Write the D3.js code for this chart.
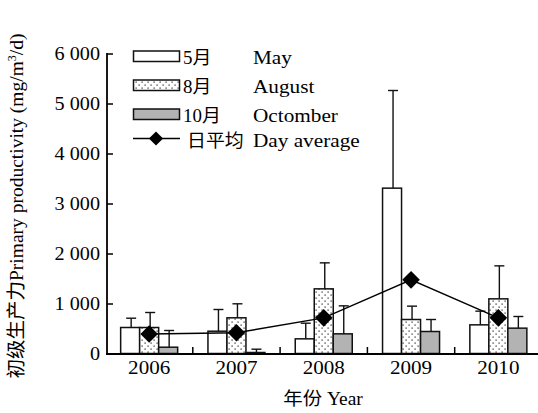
<!DOCTYPE html>
<html><head><meta charset="utf-8">
<script src="https://cdn.jsdelivr.net/npm/d3@7"></script>
<style>body{margin:0;background:#fff}</style>
</head><body><svg id="c" width="538" height="413"></svg>
<script>
const years = ["2006","2007","2008","2009","2010"];
const may = [520, 446, 293, 3307, 573];
const mayErr = [706, 880, 606, 5260, 847];
const aug = [520, 714, 1293, 680, 1093];
const augErr = [820, 994, 1813, 947, 1753];
const oct = [126, 20, 393, 440, 507];
const octErr = [460, 86, 953, 680, 740];
const dayAvg = [389, 414, 713, 1473, 713];
const yTicks = [0, 1000, 2000, 3000, 4000, 5000, 6000];
const seriesNames = ["may", "aug", "oct"];
const legendLabels = [["5月", "May"], ["8月", "August"], ["10月", "Octomber"], ["日平均", "Day average"]];

const FONT = "'Liberation Serif','Noto Sans CJK SC',serif";
const svg = d3.select("#c");
function stretch(sel, f) {
  sel.each(function() {
    const w = this.getComputedTextLength();
    this.setAttribute("textLength", (w * f).toFixed(1));
    this.setAttribute("lengthAdjust", "spacingAndGlyphs");
  });
}
const defs = svg.append("defs");
const pat = defs.append("pattern").attr("id","dots").attr("patternUnits","userSpaceOnUse")
  .attr("width",6).attr("height",6);
pat.append("rect").attr("width",6).attr("height",6).attr("fill","#fff");
pat.append("rect").attr("x",0.5).attr("y",0.5).attr("width",1.2).attr("height",1.2).attr("fill","#222");
pat.append("rect").attr("x",3.5).attr("y",3.5).attr("width",1.2).attr("height",1.2).attr("fill","#222");

const fills = {may:"#fff", aug:"url(#dots)", oct:"#b3b3b3"};
const vals = {may, aug, oct};
const errs = {may:mayErr, aug:augErr, oct:octErr};

const x = d3.scaleBand().domain(years).range([105.5, 542]).padding(0);
const xi = d3.scaleBand().domain(seriesNames).range([-28.5, 28.5]).padding(0);
const y = d3.scaleLinear().domain([0, 6000]).range([353.5, 53.5]);

// bars
seriesNames.forEach(s => {
  const g = svg.append("g");
  years.forEach((yr, i) => {
    const cx = x(yr) + x.bandwidth()/2 + xi(s);
    g.append("rect").attr("x", cx).attr("y", y(vals[s][i])).attr("width", xi.bandwidth())
      .attr("height", y(0) - y(vals[s][i])).attr("fill", fills[s]).attr("stroke","#111").attr("stroke-width",1.5);
    const ex = cx + xi.bandwidth()/2 + 1;
    g.append("line").attr("x1",ex).attr("x2",ex).attr("y1",y(vals[s][i])).attr("y2",y(errs[s][i]))
      .attr("stroke","#111").attr("stroke-width",1.4);
    g.append("line").attr("x1",ex-5).attr("x2",ex+5).attr("y1",y(errs[s][i])).attr("y2",y(errs[s][i]))
      .attr("stroke","#111").attr("stroke-width",1.4);
  });
});

// average line
const line = d3.line().x((d,i)=>x(years[i]) + x.bandwidth()/2).y(d=>y(d));
svg.append("path").attr("d", line(dayAvg)).attr("fill","none").attr("stroke","#000").attr("stroke-width",1.4);
const diamond = d3.symbol().type(d3.symbolSquare).size(155);
svg.selectAll(".dm").data(dayAvg).join("path").attr("class","dm")
  .attr("d", diamond())
  .attr("transform",(d,i)=>`translate(${x(years[i]) + x.bandwidth()/2},${y(d)}) rotate(45)`)
  .attr("fill","#000");

// axes
const yAxis = d3.axisLeft(y).tickValues(yTicks).tickSize(-6).tickPadding(8)
  .tickFormat(d => d === 0 ? "0" : d3.format(",")(d).replace(",", " "));
const gy = svg.append("g").attr("transform","translate(107,0)").call(yAxis);
gy.select(".domain").attr("d","M0,53V354").attr("stroke","#000").attr("stroke-width",1.8);
gy.selectAll(".tick line").attr("stroke","#000").attr("stroke-width",1.5);
gy.selectAll("text").attr("font-family",FONT).attr("font-size",18).attr("fill","#000").attr("x",-7).attr("dy","0.34em");
stretch(gy.selectAll("text"), 1.12);

const xAxis = d3.axisBottom(x).tickSize(0).tickPadding(7);
const gx = svg.append("g").attr("transform","translate(0,354)").call(xAxis);
gx.select(".domain").attr("d","M106,0H542").attr("stroke","#000").attr("stroke-width",1.8);
gx.selectAll("text").attr("font-family",FONT).attr("font-size",18).attr("fill","#000");
stretch(gx.selectAll("text"), 1.17);
// separators between categories
svg.selectAll(".sep").data(years.slice(1)).join("line").attr("class","sep")
  .attr("x1",d=>x(d)).attr("x2",d=>x(d)).attr("y1",354).attr("y2",347)
  .attr("stroke","#000").attr("stroke-width",1.5);

// axis titles
const xt = svg.append("text").attr("x",323).attr("y",405).attr("text-anchor","middle")
  .attr("font-family",FONT).attr("font-size",18).text("年份 Year");
stretch(xt, 1.08);
const yt = svg.append("text").attr("transform","translate(23,206) rotate(-90)").attr("text-anchor","middle")
  .attr("font-family",FONT).attr("font-size",19.5);
yt.append("tspan").text("初级生产力Primary productivity (mg/m");
yt.append("tspan").attr("font-size",12).attr("dy",-7).text("3");
yt.append("tspan").attr("dy",7).text("/d)");

// legend
const lg = svg.append("g");
const rowY = [51, 80, 109, 138];
seriesNames.forEach((s,i) => {
  lg.append("rect").attr("x",133.5).attr("y",rowY[i]).attr("width",46).attr("height",10.5)
    .attr("fill",fills[s]).attr("stroke","#111").attr("stroke-width",1.5);
});
lg.append("line").attr("x1",133).attr("x2",180).attr("y1",138.5).attr("y2",138.5).attr("stroke","#000").attr("stroke-width",1.4);
lg.append("path").attr("d", d3.symbol().type(d3.symbolSquare).size(100)())
  .attr("transform","translate(156,138.5) rotate(45)").attr("fill","#000");
legendLabels.forEach((l,i) => {
  const ty = i<3 ? rowY[i] + 13 : rowY[i] + 9;
  const t1 = lg.append("text").attr("x", i<3 ? 183 : 187).attr("y", ty).attr("font-family",FONT).attr("font-size",18).text(l[0]);
  const t2 = lg.append("text").attr("x", 253).attr("y", ty).attr("font-family",FONT).attr("font-size",18).text(l[1]);
  stretch(t1, 1.05);
  stretch(t2, 1.18);
});
</script></body></html>
